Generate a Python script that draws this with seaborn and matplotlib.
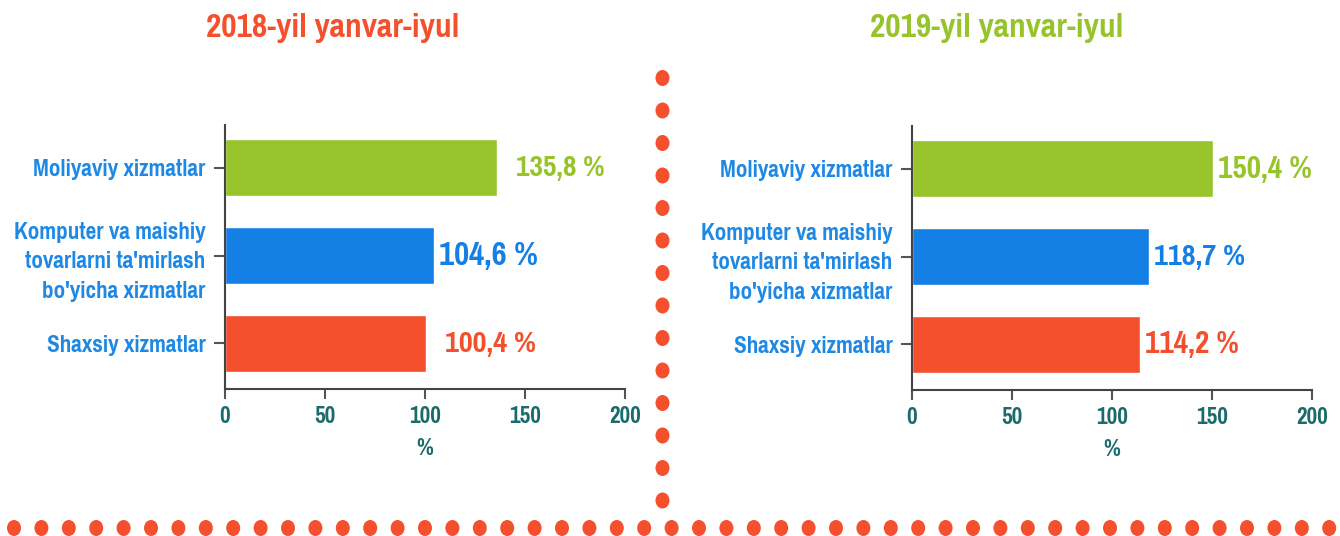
import numpy as np
import pandas as pd
import seaborn as sns
import matplotlib.pyplot as plt
from matplotlib import font_manager as fm
from matplotlib.patches import Ellipse

# data
categories = ["Moliyaviy xizmatlar",
              "Komputer va maishiy\ntovarlarni ta'mirlash\nbo'yicha xizmatlar",
              "Shaxsiy xizmatlar"]
values_2018 = [135.8, 104.6, 100.4]
values_2019 = [150.4, 118.7, 114.2]
labels_2018 = ["135,8 %", "104,6 %", "100,4 %"]
labels_2019 = ["150,4 %", "118,7 %", "114,2 %"]
titles = ["2018-yil yanvar-iyul", "2019-yil yanvar-iyul"]
x_ticks = [0, 50, 100, 150, 200]

GREEN = "#97C42B"
BLUE = "#1480E6"
RED = "#F5502D"
LABEL_BLUE = "#1E88E5"
TEAL = "#1C6B6B"
bar_colors = [GREEN, BLUE, RED]

# the original uses a narrow bold face; use one if present, otherwise Arial-metric Liberation Sans
names = {f.name for f in fm.fontManager.ttflist}
narrow = [n for n in names if 'Narrow' in n]
if narrow:
    family, k = narrow[0], 1.1
else:
    family, k = 'Liberation Sans', 0.82

sns.set_theme(style="white")
plt.rcParams['font.family'] = [family, 'DejaVu Sans']
plt.rcParams['font.weight'] = 'bold'

fig = plt.figure(figsize=(13.4, 5.36), dpi=100)
W, H = 1340, 536

# decorative dotted separators
deco = fig.add_axes([0, 0, 1, 1], zorder=0)
deco.set_xlim(0, W)
deco.set_ylim(H, 0)
deco.axis('off')
for x in np.arange(14, 1335, 27.4):
    deco.add_patch(Ellipse((x, 528), 14, 16, color=RED, lw=0))
for y in np.arange(78, 505, 32.5):
    deco.add_patch(Ellipse((662.5, y), 14, 16, color=RED, lw=0))


def panel(left_px, top_px, bottom_px, values, labels, title, title_color, title_x, pads, sizes):
    ax = fig.add_axes([left_px / W, 1 - bottom_px / H, 400 / W, (bottom_px - top_px) / H], zorder=1)
    ax.patch.set_alpha(0)
    df = pd.DataFrame({"cat": categories, "val": values})
    sns.barplot(data=df, x="val", y="cat", hue="cat", palette=bar_colors,
                legend=False, width=0.65, orient="h", ax=ax, saturation=1)
    ax.set_xlim(0, 200)
    ax.set_ylim(2.52, -0.49)
    ax.set_xticks(x_ticks)
    ax.set_xlabel("%", color=TEAL, fontsize=16.5 * k, fontweight='bold', labelpad=8)
    ax.set_ylabel("")
    for s in ["top", "right"]:
        ax.spines[s].set_visible(False)
    for s in ["left", "bottom"]:
        ax.spines[s].set_color("#444444")
        ax.spines[s].set_linewidth(1.5)
    ax.tick_params(axis='x', bottom=True, length=7, width=1.5, color="#555555",
                   labelsize=16.5 * k, labelcolor=TEAL, pad=5)
    ax.tick_params(axis='y', left=True, length=8, width=1.5, color="#555555",
                   labelsize=16.5 * k, labelcolor=LABEL_BLUE, pad=6)
    for t in ax.get_yticklabels():
        t.set_horizontalalignment('right')
        t.set_multialignment('right')
        t.set_linespacing(1.5)
    for i, (v, lab) in enumerate(zip(values, labels)):
        ax.annotate(lab, (v, i), xytext=(pads[i], 0), textcoords='offset pixels',
                    va='center', ha='left', color=bar_colors[i],
                    fontsize=sizes[i] * k, fontweight='bold')
    fig.text(title_x / W, 1 - 28 / H, title, color=title_color, fontsize=23.8 * k,
             fontweight='bold', ha='center', va='center')
    return ax


panel(225, 125, 389, values_2018, labels_2018, titles[0], RED, 333,
      pads=[19, 5, 19], sizes=[21, 23.4, 21.5])
panel(912, 126, 390, values_2019, labels_2019, titles[1], GREEN, 997,
      pads=[5, 5, 5], sizes=[22.2, 21.5, 22.2])

fig.savefig("out.png", dpi=100, facecolor="white")
